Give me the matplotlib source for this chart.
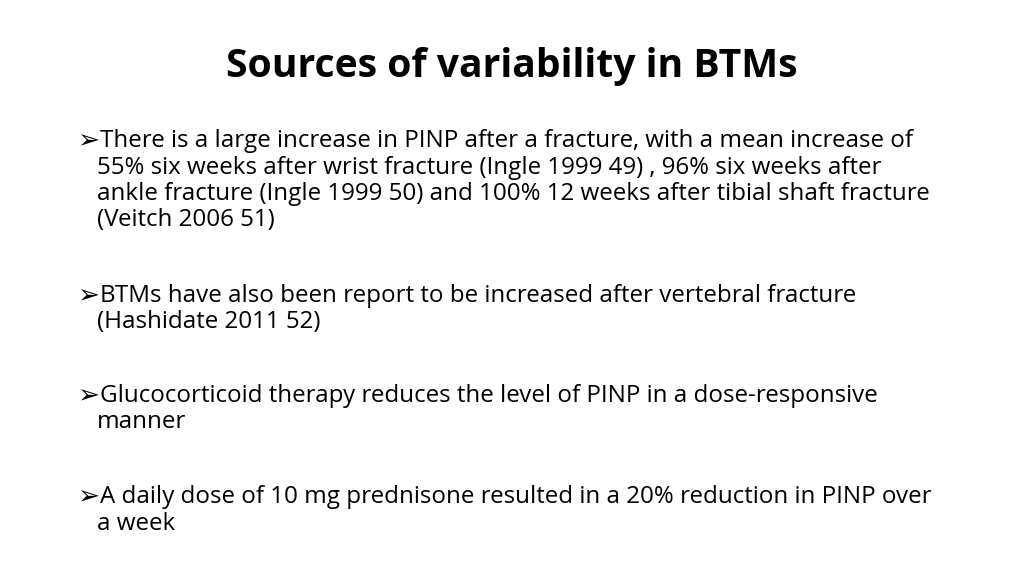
import matplotlib
matplotlib.use("Agg")
import matplotlib.pyplot as plt

title = "Sources of variability in BTMs"
bullets = [
    ["There is a large increase in PINP after a fracture, with a mean increase of",
     "55% six weeks after wrist fracture (Ingle 1999 49) , 96% six weeks after",
     "ankle fracture (Ingle 1999 50) and 100% 12 weeks after tibial shaft fracture",
     "(Veitch 2006 51)"],
    ["BTMs have also been report to be increased after vertebral fracture",
     "(Hashidate 2011 52)"],
    ["Glucocorticoid therapy reduces the level of PINP in a dose-responsive",
     "manner"],
    ["A daily dose of 10 mg prednisone resulted in a 20% reduction in PINP over",
     "a week"],
]
bullet_top = [141, 296, 396, 497]

W, H = 1024, 576
fig = plt.figure(figsize=(10.24, 5.76), dpi=100)
fig.patch.set_facecolor("white")

def fy(y):
    return 1 - y / H

fig.text(512 / W, fy(67), title, ha="center", va="center", fontsize=28.2,
         fontweight="bold", family="Open Sans", color="black")

step = 26.5
for lines, y0 in zip(bullets, bullet_top):
    fig.text(77 / W, fy(y0), "\u27A2", ha="left", va="center", fontsize=19,
             family="DejaVu Sans", color="black")
    for i, ln in enumerate(lines):
        x = 100 if i == 0 else 97
        fig.text(x / W, fy(y0 + i * step), ln, ha="left", va="center",
                 fontsize=17.4, family="Open Sans", color="black")

fig.savefig("out.png", dpi=100, facecolor="white")
